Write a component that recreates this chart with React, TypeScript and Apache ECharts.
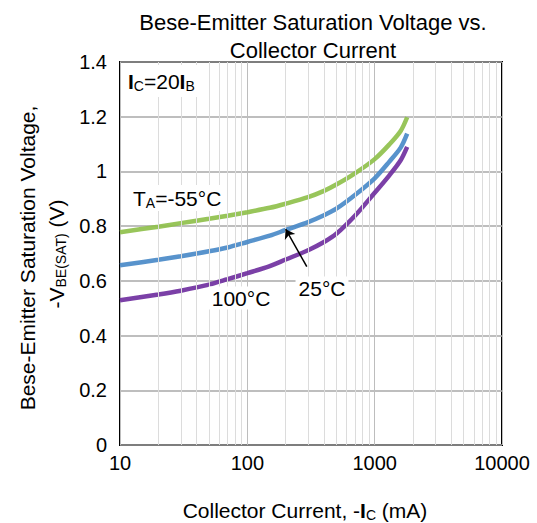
import React, { useEffect, useRef } from "react";
import * as echarts from "echarts";

const currents = [10, 20, 30, 50, 70, 100, 150, 200, 300, 400, 500, 700, 1000, 1300, 1600, 1800];
const vMinus55 = [0.778, 0.798, 0.811, 0.827, 0.838, 0.851, 0.867, 0.882, 0.906, 0.929, 0.952, 0.993, 1.045, 1.098, 1.148, 1.198];
const v25 = [0.657, 0.677, 0.69, 0.708, 0.722, 0.742, 0.765, 0.786, 0.815, 0.84, 0.864, 0.914, 0.975, 1.035, 1.087, 1.138];
const v100 = [0.529, 0.55, 0.564, 0.586, 0.606, 0.628, 0.654, 0.678, 0.712, 0.742, 0.772, 0.838, 0.922, 0.985, 1.041, 1.09];
const minorGridX = [20, 30, 40, 50, 60, 70, 80, 90, 200, 300, 400, 500, 600, 700, 800, 900, 2000, 3000, 4000, 5000, 6000, 7000, 8000, 9000];
const arrowFrom = [293, 0.652];
const arrowTo = [200, 0.789];

const FONT = "'Liberation Sans', Arial, Helvetica, sans-serif";

const rich = {
  n: { fontSize: 21, lineHeight: 24, fontFamily: FONT, fill: "#000" },
  b: { fontSize: 21, lineHeight: 24, fontFamily: FONT, fontWeight: "bold", fill: "#000" },
  s: { fontSize: 14, lineHeight: 10, verticalAlign: "bottom", fontFamily: FONT, fill: "#000" },
};

function zip(xs: number[], ys: number[]) {
  return xs.map((x, i) => [x, ys[i]]);
}

export default function App() {
  const ref = useRef<HTMLDivElement>(null);
  useEffect(() => {
    if (!ref.current) return;
    const chart = echarts.init(ref.current, null, { renderer: "svg" });
    const lineSeries = (name: string, data: number[], color: string, extra: any = {}) => ({
      name,
      type: "line",
      data: zip(currents, data),
      showSymbol: false,
      smooth: 0.3,
      z: 3,
      lineStyle: { color, width: 4.5, opacity: 0.92 },
      ...extra,
    });
    chart.setOption({
      animation: false,
      backgroundColor: "#fff",
      grid: {
        left: 120,
        right: 35,
        top: 62,
        bottom: 78,
        show: true,
        borderColor: "#000",
        borderWidth: 2,
        backgroundColor: "transparent",
      },
      xAxis: {
        type: "log",
        logBase: 10,
        min: 10,
        max: 10000,
        axisLine: { show: false },
        axisTick: { show: false },
        axisLabel: {
          fontSize: 20,
          fontFamily: FONT,
          color: "#000",
          margin: 8,
          formatter: (v: number) => String(Math.round(v)),
        },
        splitLine: { show: true, lineStyle: { color: "#bdbdbd", width: 1 } },
      },
      yAxis: {
        type: "value",
        min: 0,
        max: 1.4,
        interval: 0.2,
        axisLine: { show: false },
        axisTick: { show: false },
        axisLabel: {
          fontSize: 20,
          fontFamily: FONT,
          color: "#000",
          margin: 13,
          formatter: (v: number) => String(Math.round(v * 10) / 10),
        },
        splitLine: { show: true, lineStyle: { color: "#a8a8a8", width: 1.5 } },
      },
      series: [
        {
          type: "line",
          data: [],
          z: 1,
          silent: true,
          markLine: {
            silent: true,
            symbol: ["none", "none"],
            label: { show: false },
            lineStyle: { color: "#dcdcdc", width: 1, type: "solid" },
            data: minorGridX.map((x) => ({ xAxis: x })),
          },
        },
        lineSeries("-55°C", vMinus55, "#8fc04c"),
        lineSeries("25°C", v25, "#4a8ac8", {
          markLine: {
            silent: true,
            symbol: ["none", "arrow"],
            symbolSize: 9,
            label: { show: false },
            lineStyle: { color: "#000", width: 1.5, type: "solid" },
            data: [[{ coord: arrowFrom }, { coord: arrowTo }]],
          },
        }),
        lineSeries("100°C", v100, "#7030a0"),
      ],
      graphic: [
        {
          type: "text",
          x: 313,
          y: 8,
          z: 100,
          style: {
            text: "Bese-Emitter Saturation Voltage vs.\nCollector Current",
            fontSize: 22,
            lineHeight: 28,
            fontFamily: FONT,
            fill: "#000",
            align: "center",
          },
        },
        {
          type: "text",
          x: 27,
          y: 258,
          rotation: Math.PI / 2,
          z: 100,
          style: {
            text: "Bese-Emitter Saturation Voltage,",
            fontSize: 21,
            fontFamily: FONT,
            fill: "#000",
            align: "center",
            verticalAlign: "middle",
          },
        },
        {
          type: "text",
          x: 56,
          y: 254,
          rotation: Math.PI / 2,
          z: 100,
          style: {
            text: "{n|-V}{s|BE(SAT)}{n| (V)}",
            rich,
            align: "center",
            verticalAlign: "middle",
          },
        },
        {
          type: "text",
          x: 305,
          y: 510,
          z: 100,
          style: {
            text: "{n|Collector Current, -}{b|I}{s|C}{n| (mA)}",
            rich,
            align: "center",
            verticalAlign: "middle",
          },
        },
        {
          type: "text",
          x: 124,
          y: 81,
          z: 100,
          style: {
            text: "{b|I}{s|C}{n|=20}{b|I}{s|B}",
            rich,
            align: "left",
            verticalAlign: "middle",
            backgroundColor: "#fff",
            padding: [4, 4, 4, 4],
          },
        },
        {
          type: "text",
          x: 130,
          y: 198,
          z: 100,
          style: {
            text: "{n|T}{s|A}{n|=-55°C}",
            rich,
            align: "left",
            verticalAlign: "middle",
            backgroundColor: "#fff",
            padding: [1, 3, 1, 3],
          },
        },
        {
          type: "text",
          x: 241,
          y: 298,
          z: 100,
          style: {
            text: "100°C",
            fontSize: 21,
            fontFamily: FONT,
            fill: "#000",
            align: "center",
            verticalAlign: "middle",
            backgroundColor: "#fff",
            padding: [1, 3, 1, 3],
          },
        },
        {
          type: "text",
          x: 322,
          y: 288,
          z: 100,
          style: {
            text: "25°C",
            fontSize: 21,
            fontFamily: FONT,
            fill: "#000",
            align: "center",
            verticalAlign: "middle",
            backgroundColor: "#fff",
            padding: [1, 3, 1, 3],
          },
        },
      ],
    });
    return () => chart.dispose();
  }, []);
  return (
    <div
      ref={ref}
      style={{ position: "fixed", left: 0, top: 0, width: 537, height: 523 }}
    />
  );
}
